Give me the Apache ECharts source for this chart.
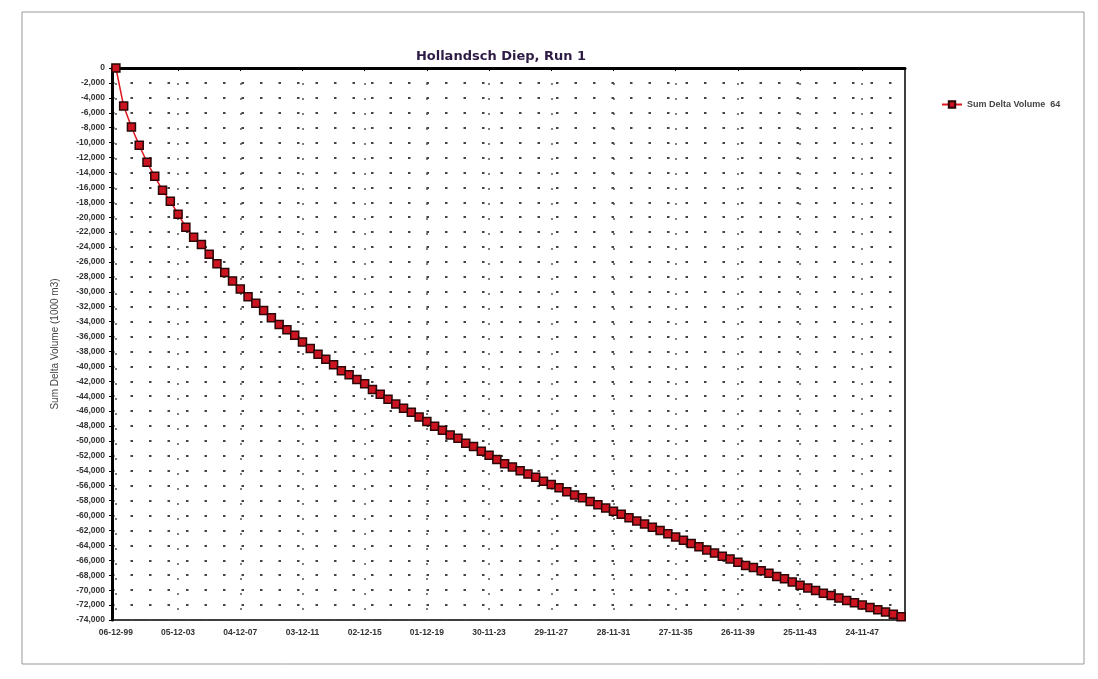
<!DOCTYPE html>
<html>
<head>
<meta charset="utf-8">
<script src="https://cdn.jsdelivr.net/npm/echarts@6/dist/echarts.min.js"></script>
<style>
html,body{margin:0;padding:0;background:#fff;}
#chart{width:1098px;height:679px;}
</style>
</head>
<body>
<div id="chart"></div>
<script>
// ---- data ----
const titleText = 'Hollandsch Diep, Run 1';
const seriesName = 'Sum Delta Volume  64';
const yAxisName = 'Sum Delta Volume (1000 m3)';
const startDate = [1999, 12, 6];     // first sample date
const stepDays = 182.5;              // half-year sampling
const xTickLabels = ['06-12-99','05-12-03','04-12-07','03-12-11','02-12-15','01-12-19','30-11-23','29-11-27','28-11-31','27-11-35','26-11-39','25-11-43','24-11-47'];
const values = [0,-5100,-7900,-10360,-12640,-14520,-16390,-17860,-19600,-21340,
-22680,-23650,-24980,-26230,-27430,-28540,-29640,-30660,-31550,-32520,
-33490,-34380,-35080,-35830,-36720,-37600,-38390,-39040,-39790,-40590,
-41110,-41770,-42330,-43090,-43740,-44400,-45060,-45620,-46140,-46800,
-47380,-48030,-48560,-49210,-49650,-50300,-50730,-51390,-51910,-52490,
-53050,-53480,-54000,-54440,-54870,-55390,-55820,-56260,-56820,-57250,
-57600,-58120,-58550,-58990,-59420,-59840,-60280,-60720,-61140,-61580,
-62010,-62430,-62880,-63310,-63740,-64180,-64600,-65030,-65470,-65810,
-66250,-66680,-66970,-67410,-67740,-68180,-68470,-68900,-69350,-69700,
-70050,-70400,-70720,-71050,-71380,-71700,-72000,-72320,-72620,-72930,
-73230,-73550];

// category labels (dd-mm-yy), every 8th shown as tick label
function pad(n){return (n<10?'0':'')+n;}
const t0 = Date.UTC(startDate[0], startDate[1]-1, startDate[2]);
const categories = values.map((_, i) => {
  if (i % 8 === 0 && xTickLabels[i/8]) return xTickLabels[i/8];
  const d = new Date(t0 + i*stepDays*86400000);
  return pad(d.getUTCDate())+'-'+pad(d.getUTCMonth()+1)+'-'+pad(d.getUTCFullYear()%100);
});

const chart = echarts.init(document.getElementById('chart'), null, {renderer:'canvas'});
const font = 'Liberation Sans, Arial, sans-serif';
chart.setOption({
  animation:false,
  backgroundColor:'#ffffff',
  title:{
    text:titleText, left:496, top:45, textAlign:'center',
    textStyle:{fontFamily:'DejaVu Sans, sans-serif', fontSize:13, fontWeight:'bold', color:'#2e1b45'}
  },
  legend:{
    left:936, top:95, orient:'vertical',
    itemWidth:20, itemHeight:8, itemGap:4,
    textStyle:{fontFamily:font, fontSize:9, fontWeight:'bold', color:'#444'},
    data:[seriesName]
  },
  graphic:[{
    type:'rect', shape:{x:22, y:12, width:1062, height:652},
    style:{fill:'none', stroke:'#999', lineWidth:1}, silent:true, z:-1
  }],
  grid:{
    left:112, right:193, top:68, bottom:59,
    show:true, borderColor:'#000', borderWidth:1.5, backgroundColor:'#fff'
  },
  xAxis:{
    type:'category', data:categories, boundaryGap:true,
    axisLine:{lineStyle:{color:'#000', width:3}},
    axisTick:{show:true, interval:7, alignWithLabel:true, length:3, lineStyle:{color:'#000'}},
    axisLabel:{interval:7, margin:8, fontFamily:font, fontSize:8.5, fontWeight:'bold', color:'#333'},
    splitLine:{show:true, interval:7, alignWithLabel:true, lineStyle:{color:'#555', width:1.5, type:[2,13]}}
  },
  yAxis:{
    type:'value', min:-74000, max:0, interval:2000,
    name:yAxisName, nameLocation:'middle', nameGap:52, nameRotate:90,
    nameTextStyle:{fontFamily:font, fontSize:10, color:'#444'},
    axisLine:{show:true, lineStyle:{color:'#000', width:3}},
    axisTick:{show:true, length:3, lineStyle:{color:'#000'}},
    axisLabel:{margin:7, fontFamily:font, fontSize:8.5, fontWeight:'bold', color:'#333',
      formatter:v => v.toLocaleString('en-US')},
    splitLine:{show:true, lineStyle:{color:'#444', width:2, type:[2.5,16]}}
  },
  series:[{
    name:seriesName, type:'line', data:values,
    symbol:'rect', symbolSize:8, showSymbol:true, showAllSymbol:true,
    lineStyle:{color:'#e0141e', width:1.5},
    itemStyle:{color:'#cc1420', borderColor:'#2a0606', borderWidth:1.5}
  }]
});
</script>
</body>
</html>
